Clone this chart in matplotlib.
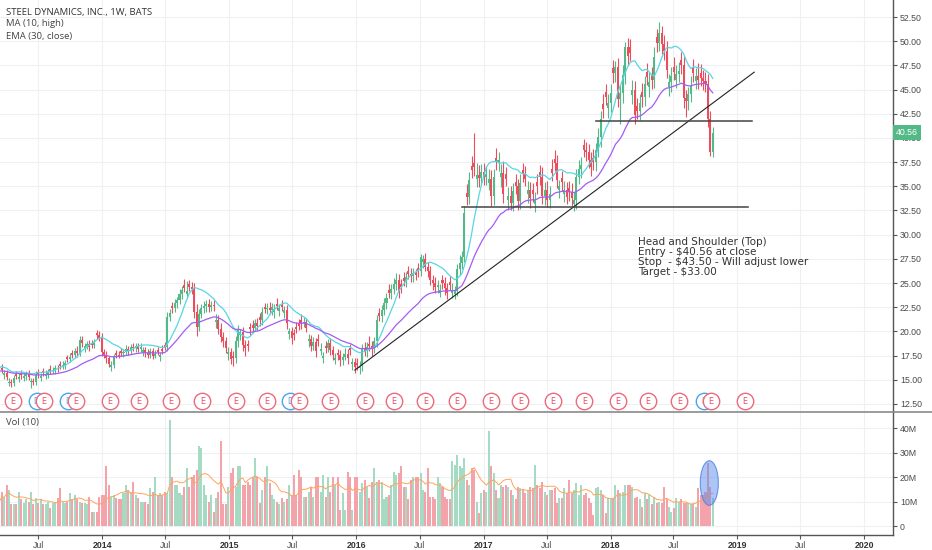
import matplotlib
matplotlib.use('Agg')
import matplotlib.pyplot as plt
import matplotlib.dates as mdates
import matplotlib.transforms as mtransforms
from matplotlib.patches import Ellipse
from matplotlib.lines import Line2D
import numpy as np
import pandas as pd

# ---------------- data ----------------
title = "STEEL DYNAMICS, INC., 1W, BATS"
ind1_label = "MA (10, high)"
ind2_label = "EMA (30, close)"
vol_label = "Vol (10)"
first_week = "2013-03-11"

closes = [
    15.9, 16.0, 15.7, 15.3, 14.8, 14.7, 15.2, 15.4, 15.3, 15.5,
    15.4, 15.6, 15.3, 14.9, 14.8, 15.5, 15.6, 15.4, 15.7, 15.6,
    15.8, 15.9, 16.0, 16.2, 16.1, 16.4, 16.5, 16.7, 17.1, 17.4,
    17.6, 18.0, 17.8, 19.1, 18.8, 18.5, 18.7, 18.4, 18.6, 18.9,
    19.6, 19.3, 17.9, 17.6, 17.2, 16.6, 16.5, 17.4, 17.6, 17.5,
    17.8, 17.9, 18.2, 18.0, 18.4, 18.3, 18.5, 18.2, 18.4, 18.1,
    17.8, 17.6, 18.0, 17.5, 17.7, 17.9, 17.6, 18.0, 18.4, 21.5,
    21.9, 22.4, 22.9, 23.2, 23.9, 24.3, 24.5, 24.2, 24.6, 24.4,
    22.0, 20.5, 21.8, 22.4, 22.6, 22.8, 22.5, 22.7, 22.6, 21.2,
    20.3, 19.4, 19.0, 18.3, 17.9, 17.1, 17.2, 19.0, 20.2, 19.9,
    18.6, 18.3, 18.5, 20.2, 20.4, 20.9, 20.6, 21.2, 22.0, 22.3,
    22.4, 22.2, 22.5, 22.3, 22.6, 22.4, 22.5, 22.2, 20.9, 20.0,
    19.3, 19.6, 20.2, 20.6, 20.9, 21.0, 20.4, 19.2, 18.5, 18.9,
    18.0, 19.0, 18.2, 17.5, 18.3, 18.8, 18.1, 17.6, 17.3, 17.6,
    17.0, 17.4, 17.7, 17.2, 18.1, 16.8, 16.3, 16.5, 16.4, 18.3,
    18.0, 18.4, 18.5, 18.3, 19.0, 21.2, 21.6, 22.2, 22.9, 23.5,
    24.0, 24.4, 24.9, 25.3, 24.2, 24.6, 25.2, 25.6, 25.9, 25.7,
    26.0, 25.8, 26.2, 27.7, 27.5, 26.7, 26.2, 25.3, 25.0, 24.6,
    24.8, 24.3, 25.0, 24.5, 24.0, 24.8, 24.3, 24.2, 26.4, 27.1,
    27.7, 32.2, 33.9, 35.7, 36.7, 37.0, 36.2, 35.9, 36.5, 36.0,
    36.3, 35.8, 34.0, 36.0, 37.5, 37.7, 36.4, 34.2, 35.8, 34.0,
    33.3, 34.5, 35.0, 33.5, 35.3, 36.3, 35.8, 34.6, 33.8, 34.2,
    33.6, 35.0, 36.0, 34.0, 34.6, 33.6, 34.2, 36.4, 37.4, 35.7,
    35.0, 35.4, 34.6, 33.9, 34.4, 33.8, 33.6, 36.0, 36.8, 37.2,
    38.8, 38.5, 37.7, 37.0, 37.5, 38.8, 40.1, 42.0, 43.0, 44.2,
    43.6, 44.6, 46.7, 47.3, 44.0, 44.6, 46.5, 49.4, 48.5, 48.8,
    45.0, 42.4, 42.8, 43.6, 44.2, 45.6, 46.3, 45.8, 46.0, 48.4,
    49.8, 50.8, 49.7, 49.0, 47.0, 45.8, 46.4, 46.8, 46.6, 46.9,
    47.5, 44.1, 43.8, 44.5, 45.4, 46.7, 46.4, 46.0, 46.2, 45.9,
    45.6, 42.0, 38.5, 40.56,
]
first_open = 15.7

# candle colour of each week as seen in the picture (G = up, R = down)
candle_colours = (
    "GRGRGRGRGR" "GGRGRGRGRG" "GRGGRRGGRG" "RGRGRGGRRG" "RRRRRRGGRR"
    "RGGRGRGRGG" "RRGRGRGRRG" "GRGGGGRGRR" "RRGGGGRGRG" "RRRRGRRGGG"
    "RRRRRGRRGR" "GRGGRGRGRG" "RRRRRGRGRG" "RRGGRGRRGR" "RGGRRGRRGG"
    "RGRRGGRGGG" "RGGGRRRGRR" "GRRGGRRRRR" "GGRRRRGGGG" "GGRGRRGRGR"
    "GGRGRGGRRG" "RGRRGRRGRR" "GRRRGRGRRR" "GRGRRRGGGG" "RRRRRGGGRR"
    "GGRGRGGGRR" "GRRGRGRGRG" "RGRRRGGRGG" "RRRGGRGRRR" "RRRG"
)

wick_up = [
    0.3, 0.4, 0.3, 0.3, 0.4, 0.3, 0.3, 0.3, 0.4, 0.3,
    0.3, 0.3, 0.4, 0.3, 0.3, 0.4, 0.3, 0.3, 0.3, 0.4,
    0.3, 0.4, 0.3, 0.3, 0.3, 0.3, 0.4, 0.3, 0.3, 0.4,
    0.3, 0.3, 0.5, 0.4, 0.4, 0.3, 0.3, 0.4, 0.3, 0.3,
    0.3, 0.4, 0.5, 0.3, 0.4, 0.3, 0.4, 0.3, 0.3, 0.4,
    0.3, 0.3, 0.4, 0.3, 0.3, 0.4, 0.3, 0.3, 0.4, 0.3,
    0.3, 0.4, 0.3, 0.3, 0.4, 0.3, 0.3, 0.4, 0.3, 0.5,
    0.4, 0.4, 0.5, 0.4, 0.5, 0.4, 0.6, 1.0, 0.4, 0.5,
    0.6, 0.8, 0.5, 0.4, 0.5, 0.4, 0.5, 0.4, 0.5, 0.6,
    0.5, 0.6, 0.5, 0.4, 0.5, 0.4, 0.6, 0.5, 0.5, 0.4,
    0.6, 0.5, 0.4, 0.4, 0.5, 0.4, 0.5, 0.4, 0.5, 0.4,
    0.5, 0.6, 0.4, 0.5, 0.6, 0.4, 0.5, 0.4, 0.5, 0.4,
    0.5, 0.4, 0.5, 0.4, 0.6, 0.5, 0.4, 0.5, 0.4, 0.5,
    0.4, 0.5, 0.6, 0.4, 0.5, 0.4, 0.5, 0.4, 0.5, 0.4,
    0.5, 0.4, 0.6, 0.5, 0.4, 0.5, 0.4, 0.6, 0.5, 0.4,
    0.6, 0.5, 0.8, 0.5, 0.4, 0.5, 0.6, 0.5, 0.6, 0.5,
    0.6, 0.5, 0.6, 0.7, 0.6, 0.5, 0.6, 0.5, 0.6, 0.7,
    0.6, 0.5, 0.6, 0.3, 0.4, 0.6, 0.5, 0.6, 0.5, 0.6,
    0.5, 0.6, 0.5, 0.6, 0.5, 0.6, 0.7, 0.5, 0.6, 0.8,
    0.6, 0.8, 0.9, 0.8, 1.0, 3.1, 1.2, 1.0, 0.8, 0.9,
    0.8, 1.0, 0.9, 0.8, 1.0, 0.8, 0.9, 1.2, 0.8, 0.9,
    1.0, 0.8, 0.9, 0.8, 1.0, 0.7, 0.8, 0.9, 0.8, 0.7,
    0.8, 0.9, 0.8, 1.0, 0.8, 0.9, 0.8, 1.0, 0.9, 0.8,
    0.7, 0.8, 0.9, 0.8, 0.7, 0.9, 0.8, 0.8, 0.9, 0.8,
    0.6, 0.8, 0.9, 0.8, 0.9, 0.7, 0.9, 0.8, 1.0, 0.8,
    0.9, 1.0, 0.8, 0.7, 1.0, 0.9, 1.0, 0.5, 0.9, 0.8,
    1.0, 0.9, 0.8, 0.9, 1.0, 0.8, 0.9, 1.0, 0.8, 1.0,
    0.9, 1.2, 0.8, 0.9, 1.0, 0.8, 0.9, 1.0, 0.9, 1.0,
    0.8, 1.0, 0.9, 0.8, 1.0, 0.9, 0.8, 1.3, 0.9, 0.8,
    0.9, 1.0, 0.8, 0.6,
]

wick_dn = [
    0.3, 0.3, 0.4, 0.3, 0.3, 0.4, 0.3, 0.3, 0.3, 0.4,
    0.3, 0.4, 0.3, 0.6, 0.3, 0.3, 0.4, 0.3, 0.3, 0.3,
    0.4, 0.3, 0.3, 0.4, 0.3, 0.3, 0.3, 0.4, 0.3, 0.3,
    0.4, 0.3, 0.4, 0.3, 0.4, 0.4, 0.3, 0.4, 0.3, 0.3,
    0.4, 0.3, 0.4, 0.3, 0.5, 0.3, 0.4, 0.3, 0.4, 0.3,
    0.3, 0.4, 0.3, 0.4, 0.3, 0.3, 0.4, 0.3, 0.3, 0.4,
    0.4, 0.3, 0.3, 0.4, 0.3, 0.3, 0.4, 0.3, 0.3, 0.4,
    0.4, 0.5, 0.4, 0.5, 0.4, 0.5, 0.4, 0.5, 0.4, 0.5,
    0.6, 1.0, 0.5, 0.4, 0.5, 0.6, 0.5, 0.4, 0.5, 0.6,
    0.6, 0.5, 0.6, 0.5, 0.6, 0.5, 0.8, 0.5, 0.6, 0.5,
    0.6, 0.8, 0.5, 0.6, 0.5, 0.4, 0.5, 0.6, 0.5, 0.4,
    0.5, 0.4, 0.5, 0.6, 0.4, 0.5, 0.4, 0.5, 0.6, 0.5,
    0.6, 0.5, 0.4, 0.5, 0.6, 0.4, 0.5, 0.6, 0.5, 0.4,
    0.6, 0.5, 0.4, 0.6, 0.5, 0.4, 0.5, 0.6, 0.5, 0.6,
    0.6, 0.5, 0.4, 0.6, 0.5, 0.6, 0.6, 0.5, 0.6, 0.5,
    0.5, 0.6, 0.5, 0.8, 0.5, 0.6, 0.5, 0.6, 0.5, 0.6,
    0.5, 0.6, 0.5, 0.6, 0.7, 0.6, 0.5, 0.6, 0.5, 0.6,
    0.6, 0.5, 0.6, 0.5, 0.6, 0.5, 0.6, 0.5, 0.7, 0.6,
    0.6, 0.5, 0.6, 0.7, 0.6, 0.5, 0.6, 0.6, 0.5, 0.6,
    0.6, 0.5, 0.8, 0.7, 0.8, 0.9, 0.8, 1.0, 0.8, 0.9,
    0.9, 0.8, 1.0, 0.9, 0.8, 0.9, 1.0, 0.9, 0.8, 1.0,
    0.8, 0.9, 0.8, 1.0, 0.8, 0.9, 0.8, 0.9, 1.0, 0.8,
    0.9, 0.8, 0.9, 0.8, 0.9, 0.7, 0.8, 0.9, 0.8, 0.9,
    0.8, 0.9, 0.8, 0.7, 0.9, 0.8, 0.7, 0.9, 0.8, 0.9,
    0.8, 0.9, 0.8, 0.9, 0.8, 0.9, 0.8, 1.0, 0.9, 0.8,
    1.0, 0.9, 1.0, 0.9, 0.8, 2.6, 1.0, 0.9, 1.0, 0.8,
    0.9, 1.0, 0.8, 0.9, 1.0, 0.9, 0.8, 1.0, 0.9, 0.8,
    0.9, 0.8, 1.0, 0.9, 0.8, 0.9, 1.0, 0.8, 0.9, 0.8,
    0.9, 1.0, 1.6, 0.9, 0.8, 0.9, 0.8, 0.9, 0.8, 0.9,
    0.8, 0.9, 0.4, 0.5,
]

volumes_m = [
    10, 14, 12, 17, 15, 9, 9, 9, 14, 11,
    9.5, 11, 10, 14, 9, 11.5, 9.5, 11, 9, 9,
    10, 7.5, 9.5, 10, 11.5, 15.6, 10, 9.5, 10, 13.6,
    11, 13, 11, 10, 9.5, 9.5, 9, 12, 6, 6,
    6, 12, 13, 13, 24.5, 17, 12, 13, 11.5, 11,
    11, 13.6, 17, 15, 14, 18, 13, 11.5, 10, 10,
    10, 9, 15.6, 14, 20, 13, 13.6, 13, 14, 13.6,
    43.6, 20, 17, 17, 13.5, 13, 16, 24, 16, 20,
    21, 23, 33, 32, 17, 13, 10, 13, 6, 11.5,
    14, 35, 9, 9, 16, 22, 24, 16, 24.5, 24.5,
    17, 17, 18, 17, 20, 28, 20, 9.5, 15, 20,
    24.5, 17.6, 13, 11, 10, 9, 11.5, 10, 11, 17,
    13, 21, 13, 23, 20, 12, 12, 14, 16, 12,
    20, 20, 14, 21, 12, 20, 14, 20, 17, 20,
    6.7, 13.5, 6.7, 22.4, 20, 6.7, 20, 20, 14, 17.6,
    19, 16, 11.5, 18, 24, 18, 19, 18, 11, 12,
    13, 17, 22.4, 21, 22, 24.5, 16, 16, 11, 19,
    20, 20, 20, 22, 15, 14, 24, 12, 12, 11,
    20, 17.6, 16, 12, 11, 11, 26.5, 25, 29, 24.5,
    24, 28, 19, 17, 24, 23, 10, 5.3, 13.5, 15,
    14, 39, 24.5, 22, 15, 11.5, 17, 16, 17, 16,
    15, 13, 11, 16, 15.6, 15, 13.5, 15, 16, 15.6,
    25, 17, 15.6, 18, 14, 13, 15, 15, 15.6, 9.5,
    11.5, 11.5, 15.6, 13.5, 19, 13.5, 15, 17.6, 13, 17,
    13, 13.5, 11.5, 9.5, 4.6, 15.6, 16, 15, 13, 5.3,
    11.5, 11, 11.5, 17, 15, 13.5, 14, 17, 17, 17,
    16, 11.5, 12, 11, 8, 13.5, 11, 13, 9, 12,
    9.5, 10, 9.5, 16, 11, 8, 6, 7.5, 11.5, 10,
    11, 9.5, 9.5, 9.5, 9, 9, 8, 15.6, 13, 13,
    14, 26, 16, 11.5,
]

earnings_dates = [
    "2013-04-18", "2013-07-18", "2013-10-17", "2014-01-22", "2014-04-17",
    "2014-07-17", "2014-10-16", "2015-01-21", "2015-04-20", "2015-07-20",
    "2015-10-19", "2016-01-25", "2016-04-18", "2016-07-18", "2016-10-17",
    "2017-01-23", "2017-04-17", "2017-07-19", "2017-10-18", "2018-01-22",
    "2018-04-18", "2018-07-18", "2018-10-17", "2019-01-22",
]
dividend_dates = ["2013-06-26", "2013-09-25", "2015-06-26", "2018-09-27"]

trend_dates = ["2015-12-28", "2019-02-18"]
trend_prices = [16.0, 46.8]
neck_dates = ["2017-11-21", "2019-02-13"]
neck_price = 41.75
target_dates = ["2016-10-30", "2019-02-01"]
target_price = 32.9

note_text = ("Head and Shoulder (Top)\nEntry - $40.56 at close\n"
             "Stop  - $43.50 - Will adjust lower\nTarget - $33.00")
last_price = 40.56

price_ticks = [12.5, 15.0, 17.5, 20.0, 22.5, 25.0, 27.5, 30.0, 32.5,
               35.0, 37.5, 40.0, 42.5, 45.0, 47.5, 50.0, 52.5]
vol_ticks = [0, 10, 20, 30, 40]
vol_tick_labels = ["0", "10M", "20M", "30M", "40M"]
x_tick_dates = ["2013-07-01", "2014-01-01", "2014-07-01", "2015-01-01", "2015-07-01",
                "2016-01-01", "2016-07-01", "2017-01-01", "2017-07-01", "2018-01-01",
                "2018-07-01", "2019-01-01", "2019-07-01", "2020-01-01"]
x_tick_labels = ["Jul", "2014", "Jul", "2015", "Jul", "2016", "Jul", "2017", "Jul",
                 "2018", "Jul", "2019", "Jul", "2020"]

# ---------------- candles ----------------
n = len(closes)
dates = pd.date_range(first_week, periods=n, freq="7D")
xd = mdates.date2num(dates.to_pydatetime())
c = np.array(closes)
up = np.array([ch == "G" for ch in candle_colours])
prev = np.concatenate([[first_open], c[:-1]])
small = 0.012 * c
o = np.where(up, np.where(prev < c, prev, c - small), np.where(prev > c, prev, c + small))
hi = np.maximum(o, c) + np.array(wick_up)
lo = np.minimum(o, c) - np.array(wick_dn)
ma_high = pd.Series(hi).rolling(10, min_periods=1).mean().values
ema_close = pd.Series(c).ewm(span=30, adjust=False).mean().values
vol = np.array(volumes_m, dtype=float)
vol_ma = pd.Series(vol).rolling(10, min_periods=1).mean().values

UP = "#53b987"
DN = "#eb4d5c"
UPV = "#a6dbc3"
DNV = "#f5a3aa"
GRID = "#eef0f3"
AX = "#555555"
TXT = "#4a4a4a"

W, H = 932, 550
fig = plt.figure(figsize=(W / 100, H / 100), dpi=100)
fig.patch.set_facecolor("white")
pane_div = 411.5
vol_bot = 535
ax = fig.add_axes([0, 1 - pane_div / H, 893 / W, pane_div / H])
axv = fig.add_axes([0, 1 - vol_bot / H, 893 / W, (vol_bot - pane_div) / H], sharex=ax)

xmin = mdates.date2num(pd.Timestamp("2013-03-13").to_pydatetime())
xmax = mdates.date2num(pd.Timestamp("2020-03-23").to_pydatetime())
ax.set_xlim(xmin, xmax)
ax.set_ylim(11.72, 54.26)
axv.set_ylim(-3.5, 46.9)

for a in (ax, axv):
    a.set_facecolor("white")
    a.set_axisbelow(True)
    a.grid(True, color=GRID, lw=0.8)
    for s in ("top", "left"):
        a.spines[s].set_visible(False)
    a.spines["right"].set_color(AX)
    a.spines["right"].set_linewidth(1.0)
    a.yaxis.tick_right()
    a.tick_params(axis="y", direction="out", length=3, width=0.8, color=AX,
                  labelsize=6.3, labelcolor=TXT, pad=2)
ax.spines["bottom"].set_visible(False)
axv.spines["bottom"].set_color(AX)
axv.spines["bottom"].set_linewidth(1.0)

tick_x = mdates.date2num(pd.to_datetime(x_tick_dates).to_pydatetime())
axv.set_xticks(tick_x)
axv.set_xticklabels(x_tick_labels)
ax.tick_params(axis="x", length=0, labelbottom=False)
axv.tick_params(axis="x", direction="out", length=3, width=0.8, color=AX,
                labelsize=6.3, labelcolor=TXT, pad=1.2)
for lab, t in zip(axv.get_xticklabels(), x_tick_labels):
    lab.set_family("Liberation Sans")
    if t != "Jul":
        lab.set_fontweight("bold")
        lab.set_color("#333333")

ax.set_yticks(price_ticks)
ax.set_yticklabels([f"{p:.2f}" for p in price_ticks], family="Liberation Sans")
axv.set_yticks(vol_ticks)
axv.set_yticklabels(vol_tick_labels, family="Liberation Sans")

# candles
cols = np.where(up, UP, DN)
ax.vlines(xd, lo, hi, colors=cols, lw=0.8, zorder=3)
body_h = np.maximum(np.abs(c - o), 0.08)
ax.bar(xd, body_h, bottom=np.minimum(o, c), width=5.8, color=cols,
       linewidth=0, zorder=4)

# indicators
ax.plot(xd, ma_high, color="#56d6e6", lw=0.9, zorder=5)
ax.plot(xd, ema_close, color="#a35cf5", lw=0.9, zorder=5)

# drawings
td = mdates.date2num(pd.to_datetime(trend_dates).to_pydatetime())
ax.plot(td, trend_prices, color="#222222", lw=0.8, zorder=6)
nd = mdates.date2num(pd.to_datetime(neck_dates).to_pydatetime())
ax.plot(nd, [neck_price, neck_price], color="#444444", lw=1.1, zorder=6)
tg = mdates.date2num(pd.to_datetime(target_dates).to_pydatetime())
ax.plot(tg, [target_price, target_price], color="#444444", lw=1.1, zorder=6)

note_x = mdates.date2num(pd.Timestamp("2018-03-21").to_pydatetime())
ax.text(note_x, 29.75, note_text, fontsize=7.5, color="#333333", va="top", ha="left",
        linespacing=1.0, family="DejaVu Sans", zorder=8)

# event markers
blend = mtransforms.blended_transform_factory(ax.transData, ax.transAxes)
ev_y = 0.0255
dd = mdates.date2num(pd.to_datetime(dividend_dates).to_pydatetime())
ax.scatter(dd, [ev_y] * len(dd), s=140, facecolor="white", edgecolor="#4aa3f0",
           linewidth=1.0, transform=blend, zorder=7, clip_on=False)
for x in dd:
    ax.text(x, ev_y, "D", transform=blend, ha="center", va="center", fontsize=5.5,
            color="#4aa3f0", zorder=7.5)
ed = mdates.date2num(pd.to_datetime(earnings_dates).to_pydatetime())
ax.scatter(ed, [ev_y] * len(ed), s=140, facecolor="white", edgecolor="#ec6a7c",
           linewidth=1.0, transform=blend, zorder=8, clip_on=False)
for x in ed:
    ax.text(x, ev_y, "E", transform=blend, ha="center", va="center", fontsize=5.8,
            color="#e35068", zorder=9)

# last price label
lbl_tr = mtransforms.blended_transform_factory(ax.transAxes, ax.transData)
ax.text(1.0 + 3 / 893, last_price, f"{last_price:.2f}", transform=lbl_tr, ha="left",
        va="center", fontsize=6.3, color="white", family="Liberation Sans",
        bbox=dict(boxstyle="square,pad=0.3", fc=UP, ec="none"), zorder=10, clip_on=False)

# volume
vcols = np.where(up, UPV, DNV)
axv.bar(xd, vol, width=5.8, color=vcols, linewidth=0, zorder=3)
axv.plot(xd, vol_ma, color="#ffa35c", lw=0.7, zorder=4)
ell_x = mdates.date2num(pd.Timestamp("2018-10-12").to_pydatetime())
axv.add_patch(Ellipse((ell_x, 17.7), width=52, height=18.2,
                      facecolor=(0.36, 0.55, 0.93, 0.5), edgecolor=(0.3, 0.5, 0.9, 0.8),
                      lw=0.8, zorder=6))

# pane divider
fig.add_artist(Line2D([0, 1], [1 - pane_div / H] * 2, transform=fig.transFigure,
                      color="#8a8a8a", lw=1.2))

# legend texts
fig.text(6 / W, 1 - 12 / H, title, fontsize=6.8, color="#333333", va="center",
         family="Open Sans")
fig.text(6 / W, 1 - 24 / H, ind1_label, fontsize=6.8, color="#444444", va="center",
         family="Open Sans")
fig.text(6 / W, 1 - 36 / H, ind2_label, fontsize=6.8, color="#444444", va="center",
         family="Open Sans")
fig.text(6 / W, 1 - 423 / H, vol_label, fontsize=6.8, color="#444444", va="center",
         family="Open Sans")

fig.savefig("out.png", dpi=100, facecolor="white")
